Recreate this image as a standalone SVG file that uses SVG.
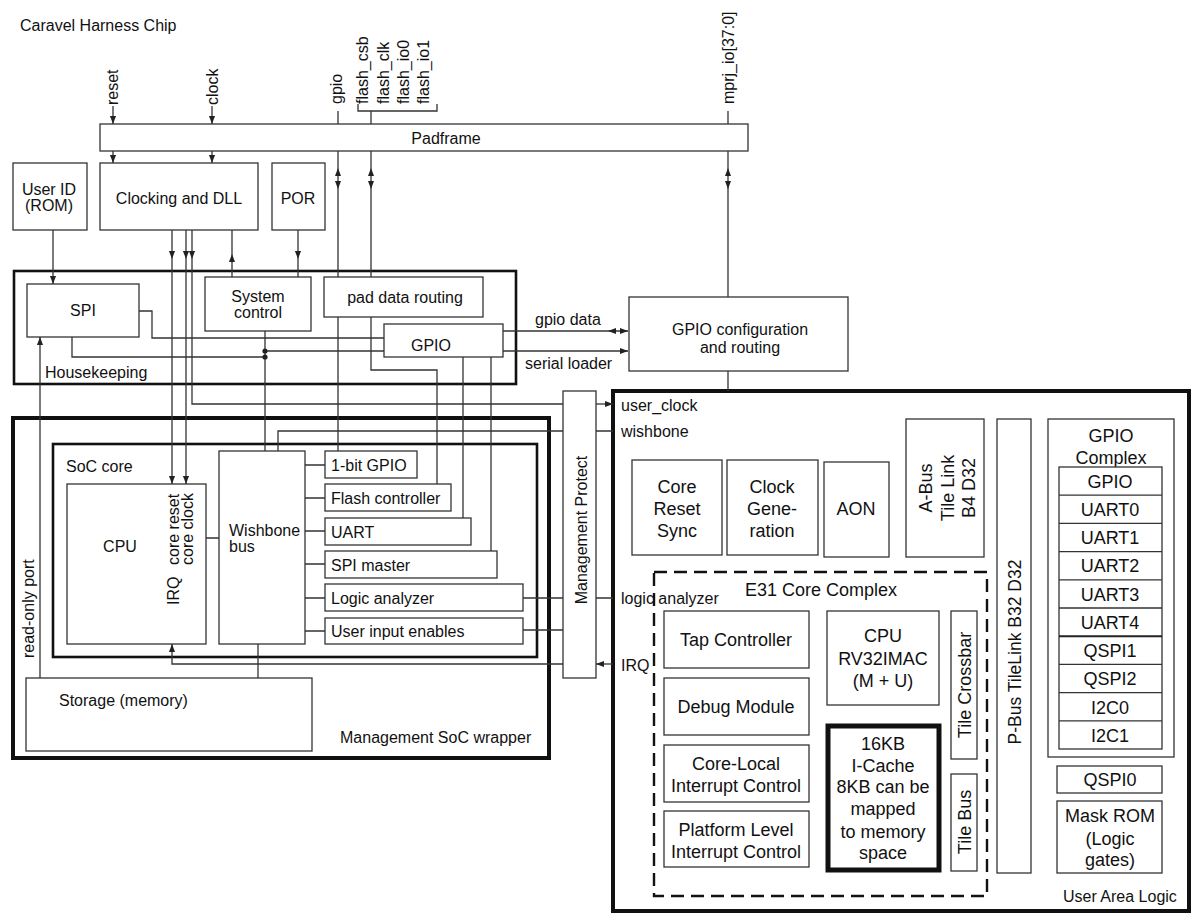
<svg xmlns="http://www.w3.org/2000/svg" xmlns:xlink="http://www.w3.org/1999/xlink" width="1200" height="922" viewBox="0 0 1200 922">
<style>
text{font-family:"Liberation Sans",Arial,Helvetica,sans-serif;font-size:16px;fill:#111}
.b{font-size:18px}
.m{text-anchor:middle}
.box{fill:#fff;stroke:#333;stroke-width:1.3}
.thk{fill:none;stroke:#111;stroke-width:2.6}
.xthk{fill:none;stroke:#111;stroke-width:4}
.w{fill:none;stroke:#333;stroke-width:1.3}
.ar{fill:none;stroke:#333;stroke-width:1.3;marker-end:url(#a)}
.dot{fill:#222}
</style>
<defs>
<marker id="a" viewBox="0 0 10 10" refX="10" refY="5" markerWidth="8" markerHeight="8" markerUnits="userSpaceOnUse" orient="auto"><path d="M0,1.2 L10,5 L0,8.8 Z" fill="#222"/></marker>
<path id="ah" d="M0,0 L-8,-3 L-8,3 Z" fill="#222"/>
</defs>
<rect width="1200" height="922" fill="#fff"/>
<text x="20" y="31">Caravel Harness Chip</text>

<g id="toplabels">
<text transform="translate(118,105) rotate(-90)">reset</text>
<text transform="translate(218,105) rotate(-90)">clock</text>
<text transform="translate(342,104) rotate(-90)">gpio</text>
<text transform="translate(368,104) rotate(-90)">flash_csb</text>
<text transform="translate(389,104) rotate(-90)">flash_clk</text>
<text transform="translate(409,104) rotate(-90)">flash_io0</text>
<text transform="translate(429,104) rotate(-90)">flash_io1</text>
<text transform="translate(734,104) rotate(-90)">mprj_io[37:0]</text>
</g>

<g id="padframe"><rect class="box" x="100" y="124" width="648" height="27"/><text class="m" x="446" y="144">Padframe</text></g>
<g id="userid"><rect class="box" x="13" y="163" width="74" height="67"/><text class="m" x="49" y="195">User ID</text><text class="m" x="49" y="211">(ROM)</text></g>
<g id="clocking"><rect class="box" x="100" y="163" width="158" height="67"/><text class="m" x="179" y="204">Clocking and DLL</text></g>
<g id="por"><rect class="box" x="272" y="163" width="53" height="67"/><text class="m" x="298" y="204">POR</text></g>

<g id="housekeeping"><rect class="thk" x="14" y="271" width="502" height="113"/><text x="45" y="378">Housekeeping</text></g>
<g id="spi"><rect class="box" x="27" y="284" width="112" height="53"/><text class="m" x="83" y="316">SPI</text></g>
<g id="sysctrl"><rect class="box" x="205" y="277" width="106" height="54"/><text class="m" x="258" y="302">System</text><text class="m" x="258" y="318">control</text></g>
<g id="paddata"><rect class="box" x="324" y="277" width="159" height="40"/><text class="m" x="405" y="303">pad data routing</text></g>
<g id="gpio"><rect class="box" x="384" y="324" width="119" height="33"/><text class="m" x="431" y="351">GPIO</text></g>
<text x="535" y="325">gpio data</text>
<text x="525" y="369">serial loader</text>

<g id="gpiocfg"><rect class="box" x="629" y="297" width="219" height="74"/><text class="m" x="740" y="335">GPIO configuration</text><text class="m" x="740" y="353">and routing</text></g>

<g id="wrapper"><rect class="xthk" x="13" y="418" width="536" height="340"/><text x="340" y="743">Management SoC wrapper</text>
<text transform="translate(34,658) rotate(-90)">read-only port</text></g>
<g id="soccore"><rect class="thk" x="53" y="444" width="484" height="213"/><text x="66" y="472">SoC core</text></g>
<g id="cpu"><rect class="box" x="67" y="484" width="139" height="160"/><text class="m" x="120" y="552">CPU</text>
<text transform="translate(179,565) rotate(-90)">core reset</text>
<text transform="translate(193,565) rotate(-90)">core clock</text>
<text transform="translate(179,605) rotate(-90)">IRQ</text></g>
<g id="wishbone"><rect class="box" x="219" y="451" width="86" height="193"/><text x="229" y="536">Wishbone</text><text x="229" y="552">bus</text></g>
<g id="p1gpio"><rect class="box" x="325" y="451" width="92" height="27"/><text x="331" y="471">1-bit GPIO</text></g>
<g id="pflash"><rect class="box" x="325" y="484" width="126" height="27"/><text x="331" y="504">Flash controller</text></g>
<g id="puart"><rect class="box" x="325" y="518" width="146" height="27"/><text x="331" y="538">UART</text></g>
<g id="pspim"><rect class="box" x="325" y="551" width="172" height="27"/><text x="331" y="571">SPI master</text></g>
<g id="pla"><rect class="box" x="325" y="584" width="198" height="27"/><text x="331" y="604">Logic analyzer</text></g>
<g id="puie"><rect class="box" x="325" y="618" width="198" height="26"/><text x="331" y="637">User input enables</text></g>
<g id="storage"><rect class="box" x="26" y="678" width="286" height="73"/><text x="59" y="706">Storage (memory)</text></g>

<g id="mprotect"><rect class="box" x="563" y="391" width="33" height="287"/><text class="m" transform="translate(587,530) rotate(-90)">Management Protect</text></g>

<g id="userarea"><rect class="xthk" x="613" y="391" width="576" height="520"/>
<text x="621" y="411">user_clock</text><text x="621" y="437">wishbone</text>
<text x="621" y="604">logic analyzer</text><text x="621" y="671">IRQ</text>
<text x="1063" y="902">User Area Logic</text></g>
<g id="crs"><rect class="box" x="632" y="460" width="90" height="95"/><text class="m b" x="677" y="493">Core</text><text class="m b" x="677" y="515">Reset</text><text class="m b" x="677" y="537">Sync</text></g>
<g id="clkgen"><rect class="box" x="727" y="460" width="91" height="95"/><text class="m b" x="772" y="493">Clock</text><text class="m b" x="772" y="515">Gene-</text><text class="m b" x="772" y="537">ration</text></g>
<g id="aon"><rect class="box" x="824" y="462" width="65" height="95"/><text class="m b" x="856" y="515">AON</text></g>
<g id="abus"><rect class="box" x="906" y="419" width="78" height="138"/>
<text class="m b" transform="translate(932,488) rotate(-90)">A-Bus</text>
<text class="m b" transform="translate(954,488) rotate(-90)">Tile Link</text>
<text class="m b" transform="translate(975,488) rotate(-90)">B4 D32</text></g>
<g id="pbus"><rect class="box" x="997" y="419" width="34" height="454"/><text class="m" style="font-size:17.5px" transform="translate(1021,652) rotate(-90)">P-Bus TileLink B32 D32</text></g>
<g id="gpiocomplex"><rect class="box" x="1048" y="419" width="126" height="338"/><text class="m b" x="1111" y="442">GPIO</text><text class="m b" x="1111" y="464">Complex</text>
<rect class="box" x="1059" y="467" width="103" height="282"/>
<path class="w" d="M1059,495.2H1162M1059,523.4H1162M1059,551.6H1162M1059,579.8H1162M1059,608H1162M1059,664.4H1162M1059,692.6H1162M1059,720.8H1162"/>
<path d="M1059,636.2H1162" stroke="#222" stroke-width="2"/>
<text class="m b" x="1110" y="488">GPIO</text>
<text class="m b" x="1110" y="516">UART0</text>
<text class="m b" x="1110" y="544">UART1</text>
<text class="m b" x="1110" y="572">UART2</text>
<text class="m b" x="1110" y="601">UART3</text>
<text class="m b" x="1110" y="629">UART4</text>
<text class="m b" x="1110" y="657">QSPI1</text>
<text class="m b" x="1110" y="685">QSPI2</text>
<text class="m b" x="1110" y="714">I2C0</text>
<text class="m b" x="1110" y="742">I2C1</text></g>
<g id="qspi0"><rect class="box" x="1057" y="766" width="105" height="27"/><text class="m b" x="1110" y="786">QSPI0</text></g>
<g id="maskrom"><rect class="box" x="1057" y="801" width="105" height="72"/><text class="m b" x="1110" y="822">Mask ROM</text><text class="m b" x="1110" y="845">(Logic</text><text class="m b" x="1110" y="866">gates)</text></g>

<g id="e31"><rect x="654" y="572" width="333" height="324" fill="none" stroke="#111" stroke-width="2.4" stroke-dasharray="13 7"/><text class="m b" x="821" y="596">E31 Core Complex</text></g>
<g id="tap"><rect class="box" x="664" y="611" width="145" height="57"/><text class="m b" x="736" y="646">Tap Controller</text></g>
<g id="debug"><rect class="box" x="664" y="678" width="145" height="57"/><text class="m b" x="736" y="713">Debug Module</text></g>
<g id="clint"><rect class="box" x="664" y="745" width="145" height="57"/><text class="m b" x="736" y="770">Core-Local</text><text class="m b" x="736" y="792">Interrupt Control</text></g>
<g id="plic"><rect class="box" x="664" y="811" width="145" height="56"/><text class="m b" x="736" y="836">Platform Level</text><text class="m b" x="736" y="858">Interrupt Control</text></g>
<g id="e31cpu"><rect class="box" x="827" y="611" width="112" height="94"/><text class="m b" x="883" y="642">CPU</text><text class="m b" x="883" y="665">RV32IMAC</text><text class="m b" x="883" y="687">(M + U)</text></g>
<g id="icache"><rect x="828" y="726" width="111" height="144" fill="#fff" stroke="#111" stroke-width="5"/>
<text class="m b" x="883" y="750">16KB</text><text class="m b" x="883" y="772">I-Cache</text><text class="m b" x="883" y="793">8KB can be</text><text class="m b" x="883" y="815">mapped</text><text class="m b" x="883" y="838">to memory</text><text class="m b" x="883" y="859">space</text></g>
<g id="crossbar"><rect class="box" x="951" y="611" width="26" height="148"/><text class="m b" transform="translate(971,685) rotate(-90)">Tile Crossbar</text></g>
<g id="tilebus"><rect class="box" x="951" y="774" width="26" height="97"/><text class="m b" transform="translate(971,822) rotate(-90)">Tile Bus</text></g>

<g id="connectors">
<path class="ar" d="M113,106V124"/>
<path class="ar" d="M212,106V124"/>
<path class="ar" d="M113,151V163"/>
<path class="ar" d="M212,151V163"/>
<path class="w" d="M338,111V124M728,111V124M358,104V111H437V104M371,111V124"/>
<path class="w" d="M338,151V277M371,151V277M728,151V297M338,317V451M371,317V370H437V484M728,371V391"/>
<use xlink:href="#ah" transform="translate(338,168) rotate(-90)"/>
<use xlink:href="#ah" transform="translate(338,189) rotate(90)"/>
<use xlink:href="#ah" transform="translate(371,168) rotate(-90)"/>
<use xlink:href="#ah" transform="translate(371,189) rotate(90)"/>
<use xlink:href="#ah" transform="translate(728,168) rotate(-90)"/>
<use xlink:href="#ah" transform="translate(728,189) rotate(90)"/>
<path class="ar" d="M53,230V284"/>
<path class="ar" d="M172,230V259"/>
<path class="ar" d="M186,230V259"/>
<path class="ar" d="M192,230V259"/>
<path class="ar" d="M298,230V259"/>
<path class="ar" d="M172,259V484"/>
<path class="ar" d="M186,259V484"/>
<path class="w" d="M192,259V404H563M298,259V277M232,254V230"/>
<path class="ar" d="M232,277V254"/>
<path class="ar" d="M596,404H613"/>
<path class="w" d="M139,311H152V338H384M72,337V357H265M265,331V451M265,351H384"/>
<circle class="dot" cx="265" cy="351" r="2.6"/><circle class="dot" cx="265" cy="357" r="2.6"/>
<path class="w" d="M503,331H628"/>
<use xlink:href="#ah" transform="translate(608,331) rotate(180)"/>
<use xlink:href="#ah" transform="translate(628,331)"/>
<path class="ar" d="M503,351H628"/>
<path class="w" d="M463,357V518M491,357V551"/>
<path class="ar" d="M40,678V337"/>
<path class="w" d="M278,451V431H563M596,431H613M206,538H219M305,465H325M305,498H325M305,531H325M305,564H325M305,598H325M305,631H325M523,598H563M596,598H613M523,630H563M258,644V678"/>
<path class="ar" d="M613,664H596"/>
<path class="ar" d="M563,664H172V644"/>
</g>
</svg>
